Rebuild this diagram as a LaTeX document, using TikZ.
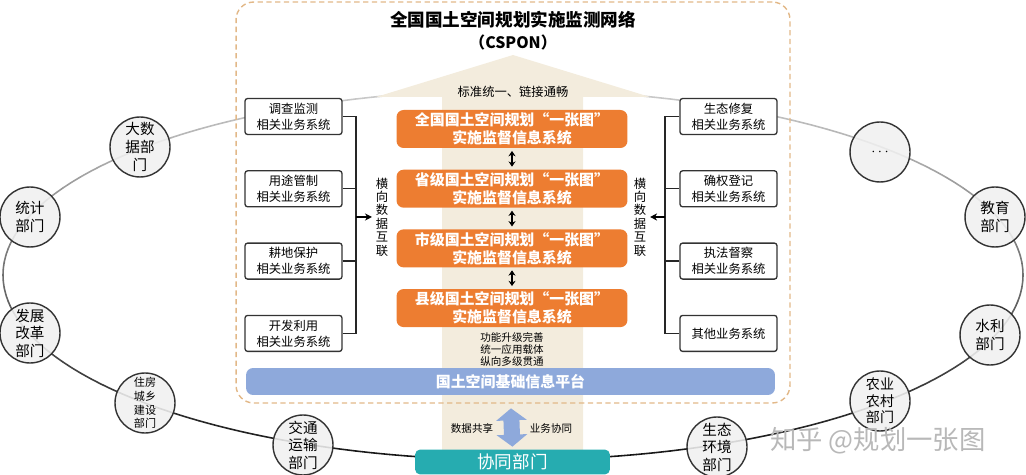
\documentclass[tikz,border=0pt]{standalone}
\usepackage{fontspec}
\setmainfont{Noto Sans CJK SC}
\usepackage{tikz}
\usetikzlibrary{arrows.meta,positioning}

\definecolor{planorange}{RGB}{237,125,49}
\definecolor{baseblue}{RGB}{142,169,219}
\definecolor{coopteal}{RGB}{38,172,176}
\definecolor{beige}{RGB}{243,236,221}
\definecolor{dashtan}{RGB}{226,184,136}

\begin{document}
\begin{tikzpicture}[x=0.02cm,y=-0.02cm,
    sys/.style={draw=black!80,line width=0.75pt,rounded corners=1.5pt,fill=white,
                minimum width=1.94cm,minimum height=0.72cm,inner sep=0pt,
                font=\fontsize{7}{9}\selectfont,align=center},
    lvl/.style={fill=planorange,rounded corners=4pt,minimum width=4.62cm,minimum height=0.76cm,
                inner sep=0pt,text=white,font=\fontsize{8.5}{10.2}\selectfont\bfseries,align=center},
    dept/.style={circle,draw=black!80,line width=0.8pt,fill=black!6,fill opacity=0.88,
                 text opacity=1,minimum size=1.2cm,inner sep=0pt,
                 font=\fontsize{8.3}{10}\selectfont,align=center},
    vtxt/.style={font=\fontsize{7}{7.6}\selectfont,align=center,inner sep=0pt},
    lbl/.style={font=\fontsize{6}{7}\selectfont,align=center,inner sep=0pt},
    arr/.style={-{Stealth[length=4pt,width=4pt]},line width=0.8pt,shorten >=2pt},
    dbl/.style={{Stealth[length=3pt,width=4pt]}-{Stealth[length=3pt,width=4pt]},
                line width=0.9pt,shorten >=1.5pt,shorten <=1.5pt},
    link/.style={line width=0.75pt,black!85},
  ]
  \useasboundingbox (0,0) rectangle (1026,475);

  % Ring of partner departments
  \foreach \t in {0,4,...,356}{
    \pgfmathsetmacro\shade{56-36*sin(\t+2)}
    \draw[line width=0.9pt,line cap=round,draw=black!\shade]
      plot[smooth,domain=\t:\t+4,samples=3] ({513+510*cos(\x)},{275-185*sin(\x)});
  }

  % Main upward arrow
  \fill[beige] (442,452) -- (442,97) -- (376,97) -- (513,55) -- (650,97)
    -- (583,97) -- (583,452) -- cycle;

  % CSPON frame
  \node[draw=dashtan,dash pattern=on 3pt off 2pt,line width=0.8pt,rounded corners=10pt,
        minimum width=11.08cm,minimum height=8.02cm] (panel) at (513,202.5) {};
  \node[font=\fontsize{10}{12}\selectfont\bfseries] (title) at (513,20)
    {全国国土空间规划实施监测网络};
  \node[font=\fontsize{9}{11}\selectfont\bfseries] (cspon) at (513,42) {（CSPON）};
  \node[font=\fontsize{7}{8}\selectfont] (std) at (513,92) {标准统一、链接通畅};

  % Levels of the "one map" system
  \node[lvl] (o1) at (512,129) {全国国土空间规划“一张图”\\实施监督信息系统};
  \node[lvl,below=0.42cm of o1] (o2) {省级国土空间规划“一张图”\\实施监督信息系统};
  \node[lvl,below=0.42cm of o2] (o3) {市级国土空间规划“一张图”\\实施监督信息系统};
  \node[lvl,below=0.42cm of o3] (o4) {县级国土空间规划“一张图”\\实施监督信息系统};
  \draw[dbl] (o1) -- (o2);
  \draw[dbl] (o2) -- (o3);
  \draw[dbl] (o3) -- (o4);
  \node[lbl,below=0.09cm of o4] (feat) {功能升级完善\\统一应用载体\\纵向多级贯通};

  % Business systems, left
  \node[sys] (lb1) at (293.5,116.5) {调查监测\\相关业务系统};
  \node[sys,below=0.7cm of lb1] (lb2) {用途管制\\相关业务系统};
  \node[sys,below=0.7cm of lb2] (lb3) {耕地保护\\相关业务系统};
  \node[sys,below=0.7cm of lb3] (lb4) {开发利用\\相关业务系统};
  \coordinate (lbus) at (356,217);
  \node[vtxt] (lvt) at (382,217) {横\\向\\数\\据\\互\\联};
  \foreach \b in {lb1,lb2,lb3,lb4} \draw[link] (\b.east) -| (lbus);
  \draw[arr] (lbus) -- (lvt.west);

  % Business systems, right
  \node[sys] (rb1) at (728.5,116.5) {生态修复\\相关业务系统};
  \node[sys,below=0.7cm of rb1] (rb2) {确权登记\\相关业务系统};
  \node[sys,below=0.7cm of rb2] (rb3) {执法督察\\相关业务系统};
  \node[sys,below=0.7cm of rb3] (rb4) {其他业务系统};
  \coordinate (rbus) at (665,217);
  \node[vtxt] (rvt) at (640,217) {横\\向\\数\\据\\互\\联};
  \foreach \b in {rb1,rb2,rb3,rb4} \draw[link] (\b.west) -| (rbus);
  \draw[arr] (rbus) -- (rvt.east);

  % Platform and cooperating departments
  \node[fill=baseblue,rounded corners=4pt,minimum width=10.58cm,minimum height=0.54cm,
        inner sep=0pt,text=white,font=\fontsize{8.5}{10}\selectfont\bfseries]
    (gis) at (510.5,381.5) {国土空间基础信息平台};
  \node[fill=coopteal,rounded corners=3pt,minimum width=3.9cm,minimum height=0.5cm,
        inner sep=0pt,text=white,font=\fontsize{10}{12}\selectfont]
    (coop) at (512.5,462) {协同部门};
  \draw[baseblue,line width=0.32cm,
        {Triangle[length=0.24cm,width=0.6cm]}-{Triangle[length=0.24cm,width=0.6cm]},
        shorten <=0.26cm,shorten >=0.05cm] (gis.south) -- (coop.north);
  \node[lbl] (share) at (472,428) {数据共享};
  \node[lbl] (joint) at (551,428) {业务协同};

  % Departments on the ring
  \node[dept] (bigdata) at (140,147) {大数\\据部\\门};
  \node[dept] (stats) at (30,217) {统计\\部门};
  \node[dept] (reform) at (30,333) {发展\\改革\\部门};
  \node[dept,font=\fontsize{6.3}{7.8}\selectfont] (housing) at (145,403) {住房\\城乡\\建设\\部门};
  \node[dept] (transport) at (303,445) {交通\\运输\\部门};
  \node[dept] (ecoenv) at (717,447) {生态\\环境\\部门};
  \node[dept,font=\fontsize{8}{9.4}\selectfont] (agri) at (880,401) {农业\\农村\\部门};
  \node[dept] (water) at (990,335) {水利\\部门};
  \node[dept] (edu) at (995,217) {教育\\部门};
  \node[dept] (more) at (880,152) {$\cdots$};

  \node[text=black!28,font=\fontsize{15}{17}\selectfont] (mark) at (878,441) {知乎 @规划一张图};
\end{tikzpicture}
\end{document}
